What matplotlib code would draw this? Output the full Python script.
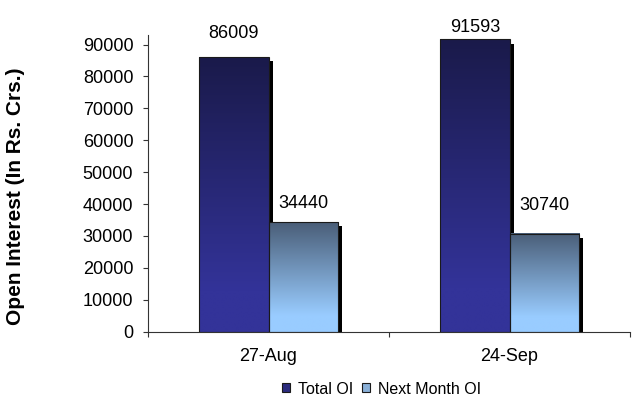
import numpy as np
import matplotlib.pyplot as plt
import matplotlib.transforms as mtransforms
from matplotlib.patches import Rectangle
from matplotlib.colors import to_rgb

# data
dates = ['27-Aug', '24-Sep']
total_oi = [86009, 91593]
next_month_oi = [34440, 30740]
yticks = list(range(0, 90001, 10000))

# label gap above each bar top (pixels), as placed in the original
total_gap = [19, 7]
next_gap = [14, 24]

plt.rcParams['font.family'] = ['Liberation Sans', 'DejaVu Sans']


def gradient(top, bottom, n=256, hold=0.85):
    t = np.clip(np.linspace(0, 1, n) / hold, 0, 1)
    c0, c1 = np.array(to_rgb(top)), np.array(to_rgb(bottom))
    return (c0[None, :] * (1 - t[:, None]) + c1[None, :] * t[:, None])[:, None, :]


fig = plt.figure(figsize=(6.32, 3.96), dpi=100)
ax = fig.add_axes([148 / 632, 64.3 / 396, 482 / 632, 296.7 / 396])

x = np.arange(len(dates))
w = 0.288
series = [
    (total_oi, -w / 2, '#1a1a4a', '#333399', total_gap),
    (next_month_oi, w / 2, '#4a5e78', '#99ccff', next_gap),
]

# drop shadow a few pixels right / down
shadow_tr = mtransforms.offset_copy(ax.transData, fig=fig, x=3, y=-3, units='points')

for vals, off, c_top, c_bot, gaps in series:
    ax.bar(x + off, vals, w, color='black', transform=shadow_tr, zorder=1)
    bars = ax.bar(x + off, vals, w, facecolor='none', edgecolor='#1a1a1a',
                  linewidth=0.8, zorder=3)
    grad = gradient(c_top, c_bot)
    for rect, v, g in zip(bars, vals, gaps):
        x0 = rect.get_x()
        ax.imshow(grad, extent=[x0, x0 + rect.get_width(), 0, rect.get_height()],
                  aspect='auto', interpolation='bilinear', zorder=2)
        ax.annotate(f'{v}', (x0 + rect.get_width() / 2, rect.get_height()),
                    xytext=(0, g), textcoords='offset pixels',
                    ha='center', va='baseline', fontsize=13)

ax.set_xlim(-0.5, 1.5)
ax.set_ylim(0, 93000)

ax.set_xticks(x)
ax.set_xticklabels(dates)
ax.set_xticks([-0.5, 0.5, 1.5], minor=True)
ax.tick_params(axis='x', which='major', length=0, pad=12, labelsize=13)
ax.tick_params(axis='x', which='minor', length=3.6, width=0.8, direction='out', color='#333333')

ax.set_yticks(yticks)
ax.set_yticklabels([str(t) for t in yticks])
ax.tick_params(axis='y', length=3.6, width=0.8, pad=7, labelsize=13, color='#333333')

for s in ['top', 'right']:
    ax.spines[s].set_visible(False)
for s in ['left', 'bottom']:
    ax.spines[s].set_color('#333333')
    ax.spines[s].set_linewidth(0.8)

fig.text(16 / 632, 1 - 196 / 396, 'Open Interest (In Rs. Crs.)', rotation=90,
         ha='center', va='center', fontsize=15, fontweight='bold')

handles = [Rectangle((0, 0), 1, 1, facecolor='#2b2b7e', edgecolor='#1a1a1a', linewidth=0.8),
           Rectangle((0, 0), 1, 1, facecolor='#8ab0d8', edgecolor='#1a1a1a', linewidth=0.8)]
fig.legend(handles, ['Total OI', 'Next Month OI'], loc='center',
           bbox_to_anchor=(381.5 / 632, 1 - 389 / 396), ncol=2, frameon=False,
           fontsize=11.5, handlelength=0.5, handleheight=0.5, handletextpad=0.5,
           columnspacing=0.5, borderpad=0)

fig.savefig('out.png', dpi=100)
